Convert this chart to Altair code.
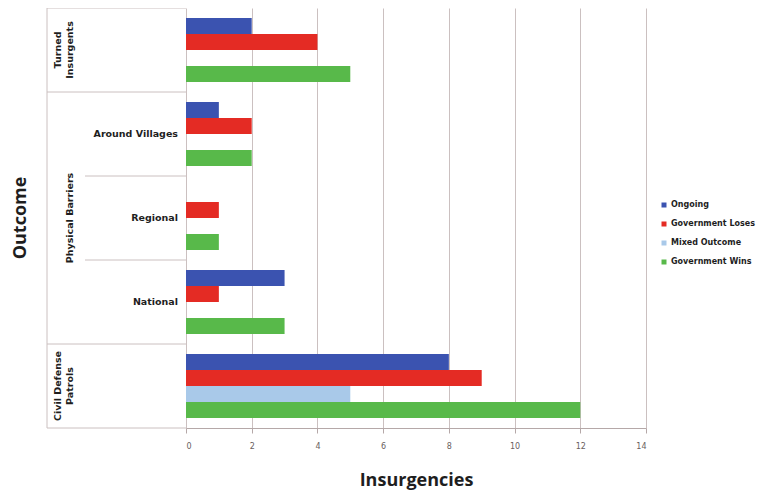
import altair as alt
import pandas as pd

# ---- data ----
categories = ["Turned Insurgents", "Around Villages", "Regional", "National", "Civil Defense Patrols"]
series = ["Ongoing", "Government Loses", "Mixed Outcome", "Government Wins"]
ongoing = [2, 1, 0, 3, 8]
gov_loses = [4, 2, 1, 1, 9]
mixed_outcome = [0, 0, 0, 0, 5]
gov_wins = [5, 2, 1, 3, 12]
series_colors = ["#3b53b0", "#e42b24", "#a9c9e9", "#58b94a"]
x_ticks = [0, 2, 4, 6, 8, 10, 12, 14]
inner_labels = ["", "Around Villages", "Regional", "National", ""]
outer_multi_anchor = ["Turned Insurgents", "Civil Defense Patrols"]
outer_multi_text = [["Turned", "Insurgents"], ["Civil Defense", "Patrols"]]
outer_single_anchor = ["Regional"]
outer_single_text = ["Physical Barriers"]
full_rule_cats = ["Turned Insurgents", "Around Villages", "Civil Defense Patrols"]
part_rule_cats = ["Regional", "National"]

# ---- layout ----
PLOT_W = 460
PLOT_H = 420
BOX_LEFT = -139
INNER_LEFT = -101
LINE = "#cbc0c0"
TXT = "#1e1e1e"

rows = []
for i, c in enumerate(categories):
    for s, vals in zip(series, [ongoing, gov_loses, mixed_outcome, gov_wins]):
        rows.append({"category": c, "series": s, "value": vals[i]})
bars_df = pd.DataFrame(rows)

y_scale = alt.Scale(domain=categories, paddingInner=0, paddingOuter=0)


def ycat(pos=None):
    if pos is None:
        return alt.Y("category:N", scale=y_scale, axis=None)
    return alt.Y("category:N", scale=y_scale, axis=None, bandPosition=pos)


bars = alt.Chart(bars_df).mark_bar().encode(
    x=alt.X(
        "value:Q",
        scale=alt.Scale(domain=[0, 14], nice=False),
        axis=alt.Axis(
            values=x_ticks, grid=True, gridColor=LINE, gridWidth=1,
            domainColor="#b5a8a8", tickColor="#b5a8a8", tickSize=5,
            labelFont="DejaVu Sans", labelFontSize=8, labelColor="#6a6060",
            labelPadding=9,
            title="Insurgencies", titleFont="Open Sans", titleFontSize=18,
            titleFontWeight="bold", titleColor=TXT, titlePadding=21,
        ),
    ),
    y=ycat(),
    yOffset=alt.YOffset("series:N", scale=alt.Scale(domain=series, paddingInner=0, paddingOuter=0.625)),
    color=alt.Color(
        "series:N",
        scale=alt.Scale(domain=series, range=series_colors),
        legend=alt.Legend(
            title=None, orient="none", legendX=474, legendY=193,
            symbolType="square", symbolSize=25, symbolStrokeWidth=0,
            labelFont="DejaVu Sans", labelFontWeight="bold", labelFontSize=8,
            labelColor=TXT, rowPadding=11, labelOffset=3,
        ),
    ),
)

full_rules = alt.Chart(pd.DataFrame({"category": full_rule_cats})).mark_rule(color=LINE).encode(
    y=ycat(0), x=alt.value(BOX_LEFT), x2=alt.value(0)
)
part_rules = alt.Chart(pd.DataFrame({"category": part_rule_cats})).mark_rule(color=LINE).encode(
    y=ycat(0), x=alt.value(INNER_LEFT), x2=alt.value(0)
)
bottom_rule = alt.Chart(pd.DataFrame({"category": [categories[-1]]})).mark_rule(color=LINE).encode(
    y=ycat(1), x=alt.value(BOX_LEFT), x2=alt.value(0)
)
left_rule = alt.Chart(pd.DataFrame({"category": [categories[0]]})).mark_rule(color=LINE).encode(
    x=alt.value(BOX_LEFT), y=alt.value(0), y2=alt.value(PLOT_H)
)

inner_df = pd.DataFrame({"category": categories, "label": inner_labels})
inner_df = inner_df[inner_df["label"] != ""]
inner_text = alt.Chart(inner_df).mark_text(
    align="right", baseline="middle", font="DejaVu Sans", fontWeight="bold",
    fontSize=9.5, color=TXT
).encode(y=ycat(), x=alt.value(-8), text="label")

outer_multi = alt.Chart(
    pd.DataFrame({"category": outer_multi_anchor, "label": outer_multi_text})
).mark_text(
    align="center", baseline="middle", angle=270, font="DejaVu Sans",
    fontWeight="bold", fontSize=9.5, color=TXT, lineHeight=12
).encode(y=ycat(), x=alt.value(-128), text="label")

outer_single = alt.Chart(
    pd.DataFrame({"category": outer_single_anchor, "label": outer_single_text})
).mark_text(
    align="center", baseline="middle", angle=270, font="DejaVu Sans",
    fontWeight="bold", fontSize=9.5, color=TXT
).encode(y=ycat(), x=alt.value(-116), text="label")

y_title = alt.Chart(pd.DataFrame({"t": ["Outcome"]})).mark_text(
    align="center", baseline="middle", angle=270, font="Open Sans",
    fontWeight="bold", fontSize=18, color=TXT
).encode(text="t", x=alt.value(-165), y=alt.value(PLOT_H / 2))

chart = alt.layer(
    left_rule, full_rules, part_rules, bottom_rule, bars, inner_text,
    outer_multi, outer_single, y_title
).properties(
    width=PLOT_W, height=PLOT_H,
    autosize=alt.AutoSizeParams(type="none"),
    padding={"left": 178, "top": 0, "right": 114, "bottom": 63},
    background="white",
).configure_view(stroke=None)

chart.save("out.html", embed_options={"renderer": "svg", "actions": False})
